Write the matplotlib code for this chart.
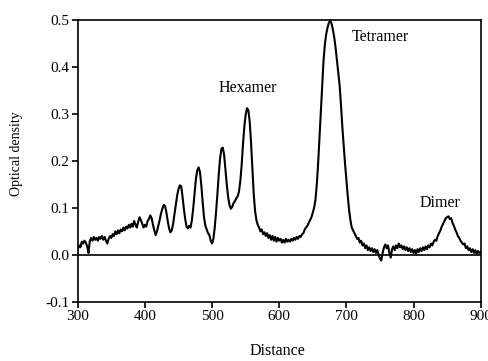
import numpy as np
import matplotlib
matplotlib.use("Agg")
import matplotlib.pyplot as plt

plt.rcParams['font.family'] = ['Liberation Serif', 'DejaVu Serif']

# Densitometer trace (distance sampled every 2 units from 300 to 900)
distance = np.arange(300, 901, 2)
density = [
    0.012, 0.020, 0.016, 0.028, 0.024, 0.030, 0.026, 0.018, 0.004,
    0.030, 0.036, 0.030, 0.038, 0.032, 0.036, 0.030, 0.038, 0.034, 0.040,
    0.032, 0.038, 0.030, 0.024, 0.034, 0.040, 0.036, 0.044, 0.040, 0.050,
    0.044, 0.052, 0.046, 0.054, 0.050, 0.058, 0.052, 0.060, 0.056, 0.064,
    0.058, 0.066, 0.060, 0.072, 0.064, 0.058, 0.070, 0.080, 0.074, 0.066,
    0.058, 0.064, 0.060, 0.072, 0.076, 0.084, 0.078, 0.064, 0.052, 0.042,
    0.050, 0.062, 0.074, 0.088, 0.098, 0.106, 0.104, 0.090, 0.072, 0.056,
    0.048, 0.052, 0.066, 0.086, 0.106, 0.126, 0.140, 0.148, 0.146, 0.124,
    0.098, 0.076, 0.060, 0.056, 0.062, 0.058, 0.074, 0.100, 0.132, 0.162,
    0.180, 0.186, 0.176, 0.148, 0.112, 0.080, 0.062, 0.054, 0.046, 0.042,
    0.030, 0.024, 0.034, 0.058, 0.092, 0.130, 0.172, 0.206, 0.226, 0.228,
    0.212, 0.180, 0.148, 0.122, 0.106, 0.098, 0.102, 0.110, 0.114, 0.120,
    0.124, 0.134, 0.156, 0.190, 0.234, 0.272, 0.298, 0.312, 0.308, 0.284,
    0.240, 0.184, 0.130, 0.094, 0.074, 0.064, 0.058, 0.050, 0.054, 0.044,
    0.048, 0.040, 0.046, 0.036, 0.042, 0.032, 0.040, 0.030, 0.038, 0.028,
    0.036, 0.030, 0.034, 0.026, 0.032, 0.026, 0.034, 0.028, 0.032, 0.028,
    0.034, 0.030, 0.036, 0.032, 0.038, 0.034, 0.040, 0.038, 0.044, 0.046,
    0.054, 0.058, 0.062, 0.068, 0.074, 0.080, 0.090, 0.100, 0.118, 0.150,
    0.196, 0.250, 0.306, 0.362, 0.414, 0.448, 0.470, 0.484, 0.494, 0.498,
    0.492, 0.478, 0.462, 0.440, 0.414, 0.388, 0.360, 0.318, 0.272, 0.232,
    0.194, 0.160, 0.126, 0.096, 0.074, 0.058, 0.052, 0.046, 0.040, 0.034,
    0.036, 0.026, 0.030, 0.020, 0.024, 0.014, 0.020, 0.010, 0.016, 0.008,
    0.014, 0.006, 0.012, 0.004, 0.010, 0.000, -0.008, -0.012, 0.004, 0.016,
    0.022, 0.014, 0.020, 0.004, -0.006, 0.012, 0.018, 0.010, 0.020, 0.014,
    0.024, 0.016, 0.020, 0.012, 0.018, 0.010, 0.016, 0.008, 0.014, 0.006,
    0.012, 0.004, 0.010, 0.002, 0.012, 0.006, 0.014, 0.008, 0.016, 0.010,
    0.018, 0.012, 0.020, 0.016, 0.024, 0.020, 0.028, 0.032, 0.030, 0.040,
    0.046, 0.052, 0.060, 0.066, 0.072, 0.078, 0.080, 0.082, 0.076, 0.078,
    0.068, 0.062, 0.054, 0.048, 0.040, 0.036, 0.030, 0.026, 0.022, 0.024,
    0.014, 0.018, 0.010, 0.014, 0.006, 0.012, 0.004, 0.010, 0.002, 0.008,
    0.004, 0.006,
]
density = np.array(density[:len(distance)])

labels = ["Hexamer", "Tetramer", "Dimer"]
label_x = [554, 751, 840]
label_y = [0.355, 0.463, 0.11]

xticks = [300, 400, 500, 600, 700, 800, 900]
yticks = [-0.1, 0.0, 0.1, 0.2, 0.3, 0.4, 0.5]

fig = plt.figure(figsize=(4.89, 3.61), dpi=100)
ax = fig.add_axes([0.159, 0.164, 0.824, 0.781])
ax.plot(distance[:len(density)], density, color='black', lw=1.5)
ax.axhline(0, color='black', lw=1.2)

for t, x, y in zip(labels, label_x, label_y):
    ax.text(x, y, t, ha='center', va='center', fontsize=11.5)

ax.set_xlim(300, 900)
ax.set_ylim(-0.1, 0.5)
ax.set_xticks(xticks)
ax.set_yticks(yticks)
ax.set_yticklabels([f"{v:.1f}" for v in yticks])
ax.tick_params(direction='out', length=4, width=1.2, labelsize=11, pad=2)
for s in ax.spines.values():
    s.set_linewidth(1.2)
ax.set_xlabel("Distance", fontsize=11.5)
ax.xaxis.set_label_coords(0.495, -0.147)
ax.set_ylabel("Optical density", fontsize=10)
ax.yaxis.set_label_coords(-0.135, 0.525)

fig.savefig("out.png", dpi=100)
